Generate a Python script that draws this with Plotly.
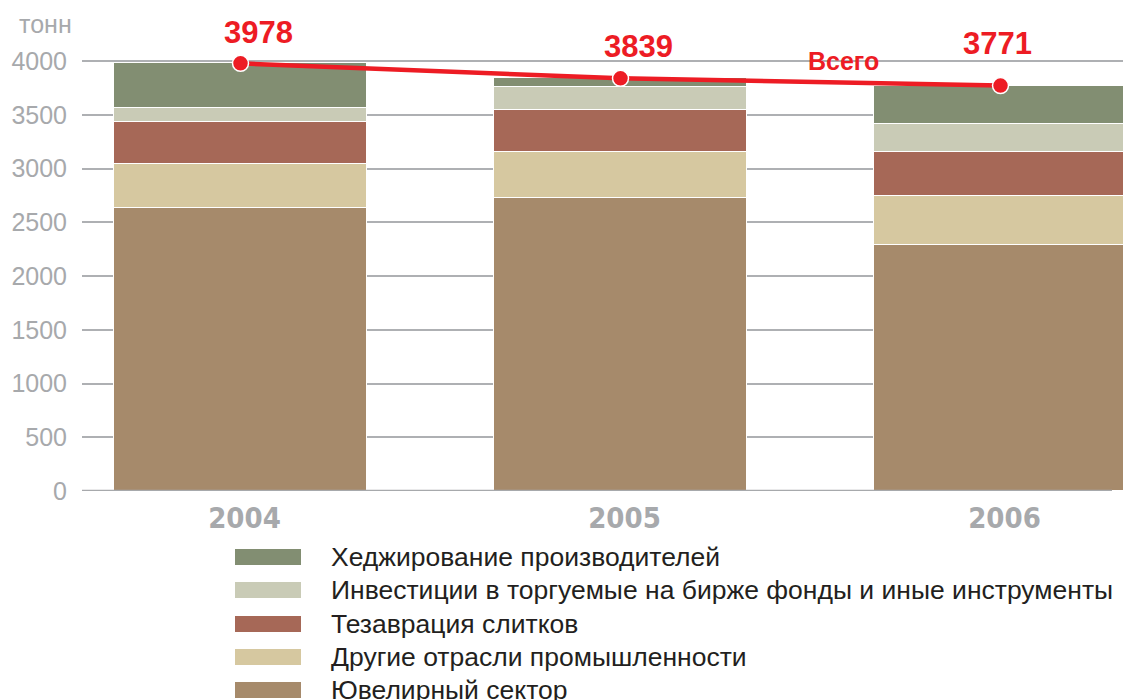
import plotly.graph_objects as go

years = ["2004", "2005", "2006"]
series_names = [
    "Ювелирный сектор",
    "Другие отрасли промышленности",
    "Тезаврация слитков",
    "Инвестиции в торгуемые на бирже фонды и иные инструменты",
    "Хеджирование производителей",
]
jewelry = [2630, 2721, 2286]
industry = [414, 434, 455]
bars_hoarding = [390, 391, 412]
etf = [131, 215, 264]
hedging = [413, 78, 354]
totals = [3978, 3839, 3771]
total_label = "Всего"
unit_label = "тонн"
y_ticks = [0, 500, 1000, 1500, 2000, 2500, 3000, 3500, 4000]

colors = ["#A68A6B", "#D6C8A0", "#A66857", "#C9CBB6", "#828E72"]
values = [jewelry, industry, bars_hoarding, etf, hedging]

W, H = 1123, 700
ML, MR, MT, MB = 82, 0, 10, 209
plot_w = W - ML - MR
plot_h = H - MT - MB
px_per_unit = 430 / 4000
y_top = plot_h / px_per_unit
cat_px = 380
x_lo = -(240.5 - ML) / cat_px
x_hi = x_lo + plot_w / cat_px

RED = "#ED1C24"
GREY = "#A7A9AC"

fig = go.Figure()
for name, vals, col in zip(series_names, values, colors):
    fig.add_trace(go.Bar(
        x=list(range(len(years))), y=vals, name=name,
        marker=dict(color=col, line=dict(color="white", width=1.5)),
        width=0.666, showlegend=False,
    ))

fig.add_trace(go.Scatter(
    x=list(range(len(years))), y=totals, mode="lines+markers", name=total_label,
    line=dict(color=RED, width=4.5),
    marker=dict(size=16, color=RED, line=dict(color="white", width=1.5)),
    cliponaxis=False, showlegend=False,
))

# total value labels
shifts = [(18, 31), (18, 32), (-3, 42)]
for i, (t, (dx, dy)) in enumerate(zip(totals, shifts)):
    fig.add_annotation(x=i, y=t, text=f"<b>{t}</b>", showarrow=False,
                       xshift=dx, yshift=dy, xanchor="center", yanchor="middle",
                       font=dict(family="Liberation Sans, Arial", size=31, color=RED))

def px_x(p):
    return (p - ML) / plot_w

def px_y(p):
    return (MT + plot_h - p) / plot_h

fig.add_annotation(xref="paper", yref="paper", x=px_x(843), y=px_y(61),
                   xanchor="center", yanchor="middle",
                   text=f"<b>{total_label}</b>", showarrow=False,
                   font=dict(family="Liberation Sans, Arial", size=25, color=RED))
fig.add_annotation(xref="paper", yref="paper", x=px_x(45), y=px_y(24),
                   xanchor="center", yanchor="middle",
                   text=unit_label, showarrow=False,
                   font=dict(family="Liberation Sans, Arial", size=25, color=GREY))

# zero axis line
fig.add_shape(type="line", xref="paper", yref="y", x0=0, x1=px_x(1112), y0=0, y1=0,
              line=dict(color=GREY, width=2.5), layer="above")

# custom legend (top item = top of stack)
row_centers = [557, 590, 624, 657, 690]
for k, yc in enumerate(row_centers):
    idx = len(series_names) - 1 - k
    fig.add_shape(type="rect", xref="paper", yref="paper",
                  x0=px_x(235), x1=px_x(301), y0=px_y(yc + 8), y1=px_y(yc - 8),
                  fillcolor=colors[idx], line=dict(width=0))
    fig.add_annotation(xref="paper", yref="paper", x=px_x(329), y=px_y(yc),
                       xanchor="left", yanchor="middle", showarrow=False,
                       text=series_names[idx],
                       font=dict(family="Liberation Sans, Arial", size=26.5, color="#231F20"))

fig.update_layout(
    width=W, height=H, barmode="stack", bargap=0,
    margin=dict(l=ML, r=MR, t=MT, b=MB),
    plot_bgcolor="white", paper_bgcolor="white",
    xaxis=dict(range=[x_lo, x_hi], tickmode="array", tickvals=list(range(len(years))),
               ticktext=years, showgrid=False, zeroline=False, showline=False,
               ticks="", ticklabelstandoff=7, ticklabelshift=4,
               tickfont=dict(family="DejaVu Sans Condensed, Arial Narrow, Arial",
                             size=29, color=GREY, weight="bold")),
    yaxis=dict(range=[0, y_top], tickmode="array", tickvals=y_ticks,
               showgrid=True, gridcolor="#AEB0B3", gridwidth=2,
               zeroline=False, showline=False, ticks="", ticklabelstandoff=14,
               tickfont=dict(family="Liberation Sans, Arial", size=25, color=GREY)),
)

fig.write_html("out.html", config={"displayModeBar": False},
               post_script="document.body.style.margin='0';document.body.style.overflow='hidden';")
